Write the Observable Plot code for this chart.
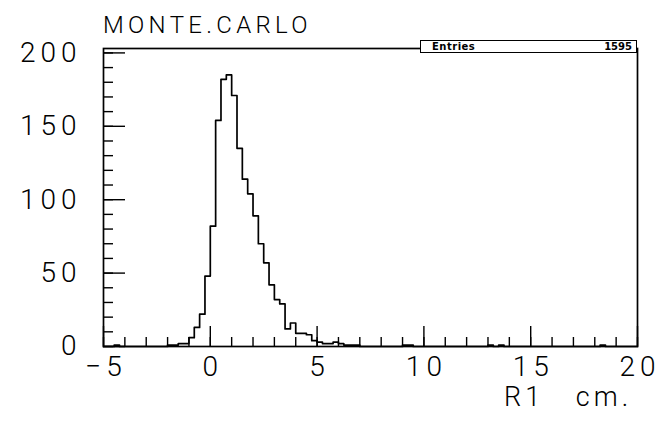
<!DOCTYPE html>
<html>
<head>
<meta charset="utf-8">
<script src="https://cdn.jsdelivr.net/npm/d3@7"></script>
<script src="https://cdn.jsdelivr.net/npm/@observablehq/plot@0.6"></script>
<style>
  html, body { margin: 0; padding: 0; background: #fff; }
  #wrap { position: relative; width: 662px; height: 430px; overflow: hidden; font-family: Roboto, "DejaVu Sans", sans-serif; }
  #title { position: absolute; left: 103px; top: 11px; font-size: 24px; font-weight: 300; letter-spacing: 4.3px; color: #000; }
  #xlabel { position: absolute; left: 504px; top: 384px; font-size: 27px; line-height: 27px; font-weight: 300; letter-spacing: 4px; color: #000; white-space: pre; }
  #stats { position: absolute; left: 420px; top: 40px; width: 215px; height: 11px; border: 1.5px solid #000; background: #fff;
           font-family: "DejaVu Sans", sans-serif; font-size: 10px; font-weight: bold; line-height: 11px; }
  #stats .k { position: absolute; left: 11px; top: 0; letter-spacing: 0.5px; }
  #stats .v { position: absolute; right: 4px; top: 0; }
  svg { position: absolute; left: 0; top: 0; }
  g[aria-label="x-axis tick label"] text, g[aria-label="y-axis tick label"] text { letter-spacing: 5px; }
</style>
</head>
<body>
<div id="wrap"></div>
<script>
// ---- data ----
const title = "MONTE.CARLO";
const xAxisLabel = "R1   cm.";
const entriesLabel = "Entries";
const entries = 1595;
const xLo = -5, xHi = 20;          // histogram range
const yTop = 203;                  // HBOOK max (1.1 * peak)
const xMajorTicks = [-5, 0, 5, 10, 15, 20];
const xMinorTicks = d3.range(-5, 21, 1);
const yMajorTicks = [0, 50, 100, 150, 200];
const yMinorTicks = d3.range(0, 201, 10);
// 100 bins of 0.25 cm from -5 to 20
const counts = [
  0, 0, 1, 0, 0, 0, 0, 0, 0, 0,          // -5.00 .. -2.75
  0, 0, 1, 1, 2, 2, 6, 13, 22, 48,       // -2.50 .. -0.25
  82, 154, 182, 185, 171, 135, 114, 104, 89, 70,   // 0.00 .. 2.25
  57, 42, 32, 29, 12, 16, 9, 9, 8, 4,    // 2.50 .. 4.75
  3, 2, 2, 3, 2, 1, 1, 1, 0, 0,          // 5.00 .. 7.25
  0, 0, 0, 0, 0, 0, 1, 1, 0, 0,          // 7.50 .. 9.75
  0, 0, 0, 0, 0, 0, 0, 0, 0, 0,          // 10.00 .. 12.25
  0, 0, 1, 0, 1, 0, 0, 0, 0, 0,          // 12.50 .. 14.75
  0, 0, 0, 0, 0, 0, 0, 0, 0, 0,          // 15.00 .. 17.25
  0, 0, 0, 1, 0, 0, 0, 0, 0, 0           // 17.50 .. 19.75
];

// ---- build step outline ----
const binW = (xHi - xLo) / counts.length;
const pts = counts.map((c, i) => ({x: xLo + i * binW, y: c}));
pts.push({x: xHi, y: counts[counts.length - 1]});

const tickFont = {fontSize: 28, fontWeight: 300, fontFamily: "Roboto, 'DejaVu Sans', sans-serif"};

const chart = Plot.plot({
  width: 662,
  height: 430,
  marginTop: 48,
  marginRight: 25,
  marginBottom: 84,
  marginLeft: 103,
  style: {background: "transparent", color: "#000"},
  x: {domain: [xLo, xHi]},
  y: {domain: [0, yTop]},
  marks: [
    Plot.line(pts, {x: "x", y: "y", curve: "step-after", stroke: "#000", strokeWidth: 1.7}),
    // inward minor / major ticks
    Plot.axisX({ticks: xMinorTicks, tickSize: -9, text: null, label: null, stroke: "#000", strokeWidth: 1.4}),
    Plot.axisX({ticks: xMajorTicks, tickSize: -20, text: null, label: null, stroke: "#000", strokeWidth: 1.4}),
    Plot.axisY({ticks: yMinorTicks, tickSize: -10, text: null, label: null, stroke: "#000", strokeWidth: 1.4}),
    Plot.axisY({ticks: yMajorTicks, tickSize: -22, text: null, label: null, stroke: "#000", strokeWidth: 1.4}),
    // labels
    Plot.axisX({ticks: xMajorTicks, tickSize: 0, tickPadding: 10, dx: 2.5, label: null, ...tickFont,
                tickFormat: d => d < 0 ? "\u2212" + Math.abs(d) : String(d)}),
    Plot.axisY({ticks: yMajorTicks, tickSize: 0, tickPadding: 22, label: null, ...tickFont}),
    Plot.frame({stroke: "#000", strokeWidth: 1.7})
  ]
});

const wrap = document.getElementById("wrap");
wrap.appendChild(chart);

const t = document.createElement("div");
t.id = "title"; t.textContent = title; wrap.appendChild(t);
const xl = document.createElement("div");
xl.id = "xlabel"; xl.textContent = xAxisLabel; wrap.appendChild(xl);
const st = document.createElement("div");
st.id = "stats";
st.innerHTML = `<span class="k"></span><span class="v"></span>`;
st.querySelector(".k").textContent = entriesLabel;
st.querySelector(".v").textContent = String(entries);
wrap.appendChild(st);
</script>
</body>
</html>
